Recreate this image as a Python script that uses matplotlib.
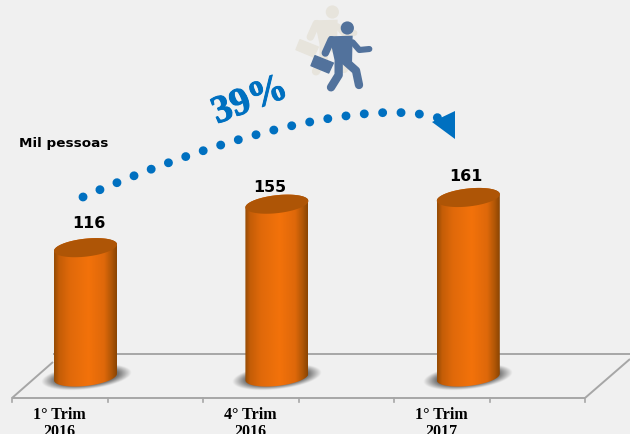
import numpy as np
import matplotlib

matplotlib.use("Agg")
import matplotlib.pyplot as plt
import matplotlib.patheffects as pe
from matplotlib.colors import LinearSegmentedColormap
from matplotlib.patches import Circle, PathPatch, Polygon
from matplotlib.path import Path

quarters = ["1° Trim\n2016", "4° Trim\n2016", "1° Trim\n2017"]
people = [116, 155, 161]
growth_label = "39%"
unit_label = "Mil pessoas"

WIDTH, HEIGHT = 630, 435
BG = "#f0f0f0"
BLUE = "#0070c0"

# scale of the cylinder axes
BASE_PX = 378
PX_PER_VALUE = 1.115
FIRST_BAR_PX = 85.5
PX_PER_BAR = 191.4
BAR_W = 63 / PX_PER_BAR
RIM_H = 9 / PX_PER_VALUE
TILT = 6.5 / PX_PER_VALUE / BAR_W

# nudges of the value labels, in pixels from the middle of each top rim
label_dx = [3.5, -7, -2]
label_dy = [25, 18, 22]

body_cmap = LinearSegmentedColormap.from_list(
    "body",
    [(0, "#954b05"), (0.08, "#c45d07"), (0.25, "#e0690a"), (0.55, "#f3720a"),
     (0.8, "#de680a"), (0.92, "#b05606"), (1, "#8a4503")],
)


def rim(cx, level, t):
    x = cx + BAR_W / 2 * np.cos(t)
    y = level + RIM_H * np.sin(t) + TILT * (x - cx)
    return np.column_stack([x, y])


def draw_shadow(ax, cx):
    a, b = 45 / PX_PER_BAR, 12.5 / PX_PER_VALUE
    xs = np.linspace(cx - a, cx + a, 120)
    ys = np.linspace(-b * 1.6, b * 1.6, 80)
    xx, yy = np.meshgrid(xs, ys)
    d = np.hypot((xx - cx) / a, (yy - TILT * (xx - cx)) / b)
    rgba = np.zeros(xx.shape + (4,))
    rgba[..., :3] = 0.45
    rgba[..., 3] = np.clip((1 - d) / 0.3, 0, 1)
    ax.imshow(rgba, extent=(xs[0], xs[-1], ys[0], ys[-1]), origin="lower",
              aspect="auto", interpolation="bilinear", zorder=1)


def draw_cylinder(ax, cx, value):
    # lower half of the base rim, then back over the top rim
    low = rim(cx, 0, np.linspace(np.pi, 2 * np.pi, 60))
    high = rim(cx, value, np.linspace(0, np.pi, 60))
    body = Polygon(np.vstack([low, high]), closed=True, fc="none", ec="none", zorder=2)
    ax.add_patch(body)
    grad = np.linspace(0, 1, 200).reshape(1, -1)
    im = ax.imshow(grad, cmap=body_cmap, extent=(cx - BAR_W / 2, cx + BAR_W / 2, -30, value + 30),
                   aspect="auto", zorder=2)
    im.set_clip_path(body)
    top = Polygon(rim(cx, value, np.linspace(0, 2 * np.pi, 120)), closed=True,
                  fc="#ae5506", ec="none", zorder=3)
    ax.add_patch(top)


def draw_runner(ax, dx, dy, color, z=2):
    def pts(*coords):
        # icon outline is laid out on a 3x grid
        return [(200 + dx + x / 3, dy + y / 3) for x, y in coords]

    def limb(*coords, lw=5.4):
        xy = np.array(pts(*coords))
        ax.plot(xy[:, 0], xy[:, 1], color=color, lw=lw, solid_capstyle="round",
                solid_joinstyle="round", zorder=z)

    hx, hy = pts((442, 87))[0]
    ax.add_patch(Circle((hx, hy), 6.6, fc=color, ec="none", zorder=z))
    ax.add_patch(Polygon(pts((388, 112), (458, 110), (456, 195), (405, 190)), fc=color, ec="none", zorder=z))
    limb((394, 122), (376, 162))
    limb((458, 130), (478, 153), (508, 150), lw=4.4)
    limb((432, 183), (468, 215), (477, 258), lw=6)
    limb((416, 190), (416, 228), (393, 265), lw=6)
    ax.add_patch(Polygon(pts((345, 170), (400, 192), (386, 222), (333, 200)), fc=color, ec=color,
                         lw=1, joinstyle="round", zorder=z))


fig = plt.figure(figsize=(WIDTH / 100, HEIGHT / 100), dpi=100, facecolor=BG)

# pixel-sized layer for the floor, the arrow and the icon
deco = fig.add_axes([0, 0, 1, 1], zorder=0)
deco.set_xlim(0, WIDTH)
deco.set_ylim(HEIGHT, 0)
deco.axis("off")

floor_kw = dict(color="#a6a6a6", lw=1.4, solid_capstyle="butt", zorder=1)
deco.plot([53, 630], [355, 355], **floor_kw)
deco.plot([12, 585], [399, 399], **floor_kw)
deco.plot([12, 53], [399, 363], **floor_kw)
deco.plot([585, 630], [399, 360], **floor_kw)
for tick_x in np.linspace(12, 585, 7):
    deco.plot([tick_x, tick_x], [399, 403], color="#a6a6a6", lw=1.2, zorder=1)

trend = Path([(83, 198), (250, 125), (390, 98), (447, 122)],
             [Path.MOVETO, Path.CURVE4, Path.CURVE4, Path.CURVE4])
deco.add_patch(PathPatch(trend, fc="none", ec=BLUE, lw=6.4, capstyle="round",
                         linestyle=(0, (0.01, 2.06)), zorder=2))
deco.add_patch(Polygon([(432, 123), (455, 112), (455, 140)], fc=BLUE, ec="none", zorder=3))

draw_runner(deco, -15, -16, "#e7e4dc")
draw_runner(deco, 0, 0, "#52729c", z=3)

deco.text(250, 102, growth_label, color=BLUE, fontsize=28, fontweight="bold",
          family="Liberation Serif", rotation=21, ha="center", va="center", zorder=4,
          path_effects=[pe.withStroke(linewidth=0.7, foreground=BLUE)])
deco.text(19, 144, unit_label, color="black", fontsize=9.7, fontweight="bold",
          family="DejaVu Sans", ha="left", va="center")

# cylinders, on a value scale
ax = fig.add_axes([0, 0, 1, 1], zorder=1)
ax.patch.set_alpha(0)
ax.axis("off")
positions = np.arange(len(people))
for pos, value, dx, dy in zip(positions, people, label_dx, label_dy):
    draw_shadow(ax, pos)
    draw_cylinder(ax, pos, value)
    ax.text(pos + dx / PX_PER_BAR, value + dy / PX_PER_VALUE, str(value), color="black",
            fontsize=11.4, fontweight="bold", family="DejaVu Sans", ha="center", va="center", zorder=4)
ax.set_xlim(-FIRST_BAR_PX / PX_PER_BAR, (WIDTH - FIRST_BAR_PX) / PX_PER_BAR)
ax.set_ylim((BASE_PX - HEIGHT) / PX_PER_VALUE, BASE_PX / PX_PER_VALUE)

for pos, label in zip(positions, quarters):
    first, second = label.split("\n")
    for text, y_px in ((first, 419), (second, 436)):
        ax.text(pos - 26.5 / PX_PER_BAR, (BASE_PX - y_px) / PX_PER_VALUE, text, color="black",
                fontsize=11.5, fontweight="bold", family="Liberation Serif",
                ha="center", va="baseline", zorder=4)

fig.savefig("out.png", dpi=100, facecolor=BG)
